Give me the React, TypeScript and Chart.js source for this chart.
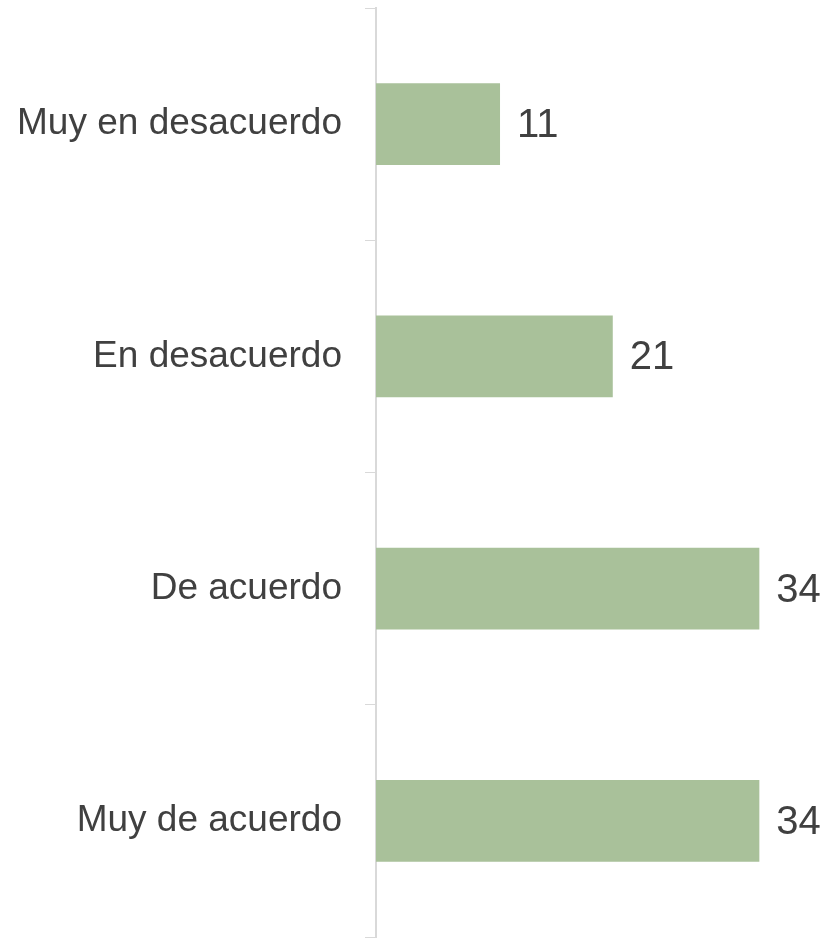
import { useEffect, useRef } from 'react';
import Chart from 'chart.js/auto';

const categories = ['Muy en desacuerdo', 'En desacuerdo', 'De acuerdo', 'Muy de acuerdo'];
const values = [11, 21, 34, 34];
const xMax = 40;

const FONT = '"Liberation Sans", Arial, sans-serif';
const TEXT = '#404040';
const AXIS = '#d9d9d9';
const BAR = '#a9c19a';

const valueLabels = {
  id: 'valueLabels',
  afterDatasetsDraw(chart: any) {
    const { ctx } = chart;
    const meta = chart.getDatasetMeta(0);
    ctx.save();
    ctx.fillStyle = TEXT;
    ctx.font = `40px ${FONT}`;
    ctx.textAlign = 'left';
    ctx.textBaseline = 'middle';
    meta.data.forEach((bar: any, i: number) => {
      ctx.fillText(String(values[i]), bar.x + 17, bar.y + 2);
    });
    ctx.restore();
  },
};

export default function App() {
  const canvas = useRef<HTMLCanvasElement>(null);

  useEffect(() => {
    let chart: Chart<any> | undefined;
    if (canvas.current) {
      chart = new Chart(canvas.current, {
        type: 'bar',
        data: {
          labels: categories,
          datasets: [
            {
              data: values,
              backgroundColor: BAR,
              borderWidth: 0,
              categoryPercentage: 1,
              barPercentage: 0.353,
            },
          ],
        },
        options: {
          indexAxis: 'y',
          animation: false,
          responsive: true,
          maintainAspectRatio: false,
          layout: { padding: { top: 8, bottom: 1, right: 1, left: 0 } },
          plugins: {
            legend: { display: false },
            tooltip: { enabled: false },
          },
          scales: {
            x: {
              display: false,
              min: 0,
              max: xMax,
            },
            y: {
              afterFit: (axis: any) => {
                axis.width = 376;
                axis.paddingTop = 0;
                axis.paddingBottom = 0;
              },
              border: { display: true, color: AXIS, width: 2 },
              grid: {
                offset: true,
                drawOnChartArea: false,
                drawTicks: true,
                tickLength: 11,
                color: AXIS,
                lineWidth: 1,
              },
              ticks: {
                padding: 23,
                color: TEXT,
                font: { family: FONT, size: 37 },
              },
            },
          },
        },
        plugins: [valueLabels],
      });
    }
    return () => {
      chart?.destroy();
    };
  }, []);

  return (
    <div style={{ position: 'fixed', left: 0, top: 0, width: 828, height: 938, background: '#fff' }}>
      <canvas ref={canvas} />
    </div>
  );
}
